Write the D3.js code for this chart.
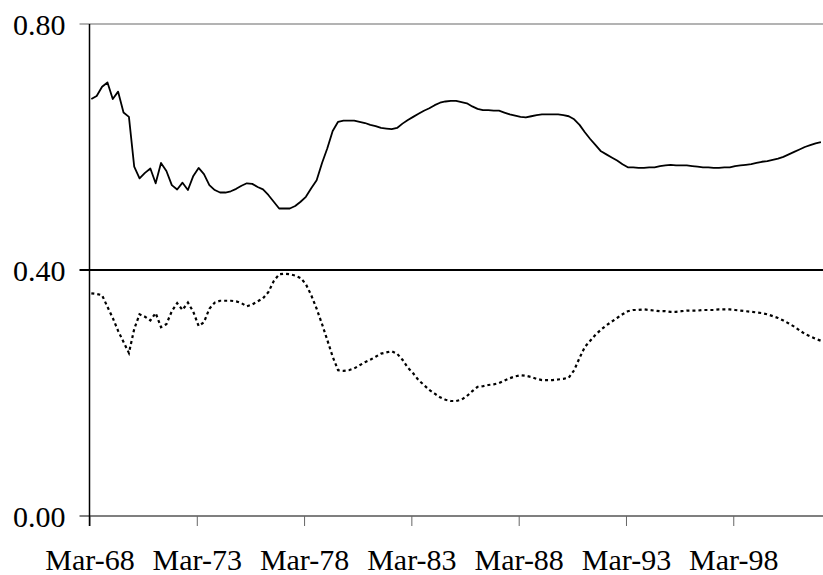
<!DOCTYPE html>
<html>
<head>
<meta charset="utf-8">
<script src="https://cdn.jsdelivr.net/npm/d3@7"></script>
<style>
  body { margin: 0; background: #fff; }
  svg { display: block; }
</style>
</head>
<body>
<div id="chart"></div>
<script>
// quarterly observations, Mar-68 to Jun-02
var startDate = new Date(1968, 2, 1);
var endDate = new Date(2002, 5, 1);

var upperSeries = [
  0.678, 0.683, 0.698, 0.705, 0.678, 0.690, 0.656, 0.649, 0.568, 0.549,
  0.558, 0.565, 0.541, 0.574, 0.561, 0.538, 0.531, 0.542, 0.530, 0.553,
  0.566, 0.556, 0.538, 0.530, 0.526, 0.526, 0.528, 0.532, 0.537, 0.541,
  0.540, 0.535, 0.531, 0.522, 0.511, 0.500, 0.500, 0.500, 0.504, 0.511,
  0.519, 0.533, 0.546, 0.574, 0.598, 0.626, 0.641, 0.643, 0.643, 0.643,
  0.641, 0.639, 0.636, 0.634, 0.631, 0.630, 0.629, 0.631, 0.638, 0.644,
  0.649, 0.654, 0.659, 0.663, 0.668, 0.672, 0.674, 0.675, 0.675, 0.673,
  0.671, 0.666, 0.662, 0.660, 0.660, 0.659, 0.659, 0.656, 0.653, 0.651,
  0.649, 0.648, 0.650, 0.652, 0.653, 0.653, 0.653, 0.653, 0.652, 0.650,
  0.645, 0.636, 0.624, 0.613, 0.603, 0.593, 0.588, 0.583, 0.578, 0.572,
  0.567, 0.567, 0.566, 0.566, 0.567, 0.567, 0.569, 0.570, 0.571, 0.570,
  0.570, 0.570, 0.569, 0.568, 0.567, 0.567, 0.566, 0.566, 0.567, 0.567,
  0.569, 0.570, 0.571, 0.572, 0.574, 0.576, 0.577, 0.579, 0.581, 0.584,
  0.588, 0.592, 0.596, 0.600, 0.603, 0.606, 0.608, 0.610
];

var lowerSeries = [
  0.362, 0.361, 0.359, 0.340, 0.322, 0.301, 0.283, 0.265, 0.304, 0.328,
  0.324, 0.318, 0.330, 0.307, 0.312, 0.333, 0.346, 0.335, 0.347, 0.332,
  0.309, 0.315, 0.337, 0.347, 0.350, 0.350, 0.350, 0.349, 0.346, 0.341,
  0.344, 0.349, 0.354, 0.364, 0.382, 0.393, 0.394, 0.393, 0.391, 0.387,
  0.377, 0.359, 0.337, 0.312, 0.286, 0.259, 0.237, 0.236, 0.237, 0.240,
  0.245, 0.250, 0.254, 0.259, 0.264, 0.266, 0.268, 0.264, 0.254, 0.241,
  0.232, 0.221, 0.213, 0.205, 0.199, 0.193, 0.189, 0.187, 0.187, 0.189,
  0.195, 0.203, 0.210, 0.211, 0.213, 0.214, 0.216, 0.220, 0.224, 0.227,
  0.229, 0.228, 0.226, 0.223, 0.221, 0.221, 0.221, 0.222, 0.223, 0.225,
  0.237, 0.257, 0.275, 0.285, 0.295, 0.303, 0.310, 0.316, 0.322, 0.328,
  0.333, 0.335, 0.335, 0.336, 0.335, 0.334, 0.333, 0.333, 0.332, 0.332,
  0.333, 0.334, 0.334, 0.334, 0.335, 0.335, 0.335, 0.336, 0.336, 0.336,
  0.335, 0.334, 0.333, 0.332, 0.331, 0.330, 0.328, 0.325, 0.322, 0.318,
  0.313, 0.308, 0.302, 0.296, 0.292, 0.288, 0.285, 0.283
];

var yTicks = [0, 0.4, 0.8];
var xTickDates = [
  new Date(1968, 2, 1), new Date(1973, 2, 1), new Date(1978, 2, 1),
  new Date(1983, 2, 1), new Date(1988, 2, 1), new Date(1993, 2, 1),
  new Date(1998, 2, 1)
];
var xTickLabels = ["Mar-68", "Mar-73", "Mar-78", "Mar-83", "Mar-88", "Mar-93", "Mar-98"];

var width = 823;
var height = 575;
var marginLeft = 89.5;
var marginTop = 24;
var plotBottom = 516;

var quarters = d3.timeMonth.every(3).range(startDate, d3.timeMonth.offset(endDate, 1));

var svg = d3.select("#chart").append("svg")
    .attr("width", width)
    .attr("height", height);

var x = d3.scaleTime()
    .domain([startDate, endDate])
    .range([marginLeft, 824.5]);

var y = d3.scaleLinear()
    .domain([0, 0.8])
    .range([plotBottom, marginTop]);

// horizontal lines at the tick values
svg.append("g")
  .selectAll("line")
  .data(yTicks)
  .join("line")
    .attr("x1", marginLeft - 10)
    .attr("x2", width)
    .attr("y1", d => y(d))
    .attr("y2", d => y(d))
    .attr("stroke", d => d === 0.4 ? "#000" : (d === 0 ? "#555" : "#9a9a9a"))
    .attr("stroke-width", d => d === 0.4 ? 2 : 1.5);

// x axis ticks and labels
var xAxis = svg.append("g")
    .attr("transform", `translate(0,${plotBottom})`)
    .call(d3.axisBottom(x)
      .tickValues(xTickDates)
      .tickSize(10)
      .tickFormat((d, i) => xTickLabels[i]));
xAxis.select(".domain").remove();
xAxis.selectAll(".tick line").attr("stroke", "#666").attr("stroke-width", 1);
xAxis.selectAll(".tick text")
    .attr("y", 54)
    .attr("dy", 0)
    .attr("fill", "#000")
    .style("font-family", "'Liberation Serif'")
    .style("font-size", "30px");

// y axis
var yAxis = svg.append("g")
    .attr("transform", `translate(${marginLeft},0)`)
    .call(d3.axisLeft(y)
      .tickValues(yTicks)
      .tickSize(0)
      .tickPadding(24)
      .tickFormat(d3.format(".2f")));
yAxis.select(".domain")
    .attr("d", `M0,${marginTop}V${plotBottom + 10}`)
    .attr("stroke", "#000")
    .attr("stroke-width", 1.5);
yAxis.selectAll(".tick text")
    .attr("dy", "0.34em")
    .attr("fill", "#000")
    .style("font-family", "'Liberation Serif'")
    .style("font-size", "30px");

var line = d3.line()
    .x((d, i) => x(quarters[i]))
    .y(d => y(d));

svg.append("path")
    .datum(upperSeries)
    .attr("fill", "none")
    .attr("stroke", "#000")
    .attr("stroke-width", 1.8)
    .attr("stroke-linejoin", "round")
    .attr("d", line);

svg.append("path")
    .datum(lowerSeries)
    .attr("fill", "none")
    .attr("stroke", "#000")
    .attr("stroke-width", 2.2)
    .attr("stroke-dasharray", "3,3")
    .attr("d", line);
</script>
</body>
</html>
